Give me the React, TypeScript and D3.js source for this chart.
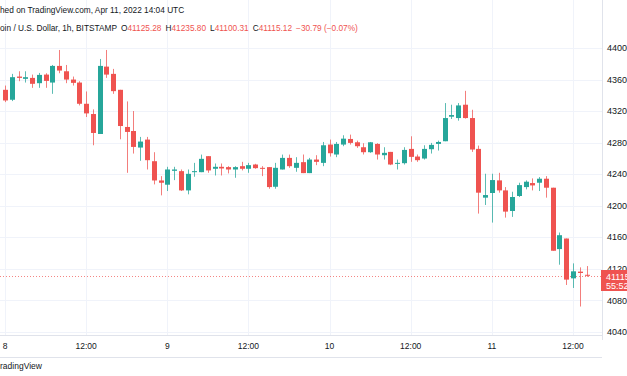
import React from "react";
import * as d3 from "d3";

const W = 627;
const H = 376;

// OHLC, hourly candles starting Apr 8 2022 00:00 UTC
const opens = [
  43470, 43344, 43638, 43609, 43621, 43554, 43663, 43562, 43773, 43705, 43600, 43562, 43293, 43163, 42910, 43764,
  43672, 43470, 42999, 42948, 42738, 42839, 42565, 42321, 42267, 42443, 42439, 42195, 42426, 42426, 42629, 42469,
  42494, 42490, 42460, 42502, 42469, 42523, 42481, 42490, 42241, 42460, 42607, 42481, 42553, 42414, 42586, 42544,
  42776, 42650, 42776, 42847, 42805, 42742, 42679, 42784, 42641, 42683, 42536, 42540, 42721, 42624, 42599, 42717,
  42784, 42818, 43129, 43112, 43281, 43112, 42721, 42103, 42162, 42322, 42195, 41934, 42124, 42237, 42288, 42292,
  42343, 42229, 41451, 41585, 41080, 41165, 41125.28,
];
const highs = [
  43524, 43672, 43705, 43705, 43663, 43684, 43680, 43785, 43975, 43785, 43638, 43579, 43449, 43222, 43861, 43975,
  43735, 43470, 43323, 43201, 42873, 42873, 42679, 42376, 42494, 42494, 42460, 42460, 42544, 42649, 42629, 42536,
  42536, 42502, 42502, 42557, 42544, 42532, 42502, 42490, 42544, 42649, 42649, 42616, 42650, 42607, 42641, 42809,
  42839, 42809, 42894, 42902, 42826, 42793, 42809, 42793, 42742, 42683, 42586, 42742, 42881, 42650, 42767, 42797,
  42826, 43302, 43281, 43302, 43457, 43217, 42763, 42406, 42406, 42418, 42237, 42178, 42292, 42322, 42347, 42364,
  42376, 42229, 41661, 41585, 41270, 41219, 41235.8,
];
const lows = [
  43314, 43327, 43579, 43562, 43495, 43495, 43495, 43419, 43680, 43554, 43524, 43272, 43125, 42767, 42910, 43621,
  43419, 42843, 42418, 42662, 42570, 42460, 42271, 42132, 42187, 42325, 42187, 42145, 42368, 42426, 42418, 42384,
  42384, 42410, 42355, 42448, 42418, 42469, 42376, 42216, 42216, 42460, 42481, 42431, 42414, 42414, 42515, 42502,
  42624, 42616, 42755, 42776, 42734, 42650, 42671, 42586, 42586, 42515, 42460, 42523, 42557, 42557, 42586, 42662,
  42700, 42818, 43100, 43079, 43105, 42683, 41901, 42010, 41787, 42166, 41850, 41859, 42111, 42208, 42195, 42187,
  42103, 41430, 41253, 40996, 40958, 40723, 41100.31,
];
const closes = [
  43335, 43630, 43621, 43630, 43546, 43659, 43583, 43773, 43714, 43600, 43558, 43293, 43171, 42923, 43773, 43663,
  43453, 43011, 42936, 42746, 42814, 42578, 42321, 42292, 42460, 42460, 42195, 42405, 42439, 42595, 42448, 42494,
  42473, 42460, 42490, 42469, 42515, 42477, 42473, 42237, 42481, 42607, 42502, 42544, 42414, 42586, 42557, 42767,
  42666, 42784, 42851, 42797, 42755, 42679, 42805, 42650, 42671, 42523, 42544, 42708, 42620, 42578, 42721, 42772,
  42809, 43112, 43150, 43272, 43112, 42713, 42166, 42136, 42326, 42195, 41926, 42111, 42262, 42305, 42258, 42343,
  42229, 41430, 41627, 41064, 41169, 41148, 41115.12,
];

const priceTicks = [44000, 43600, 43200, 42800, 42400, 42000, 41600, 41200, 40800, 40400];
const startTime = Date.UTC(2022, 3, 8, 0);
const headerLine1 = "hed on TradingView.com, Apr 11, 2022 14:04 UTC";
const symbolText = "oin / U.S. Dollar, 1h, BITSTAMP";
const ohlcLabels = ["O", "H", "L", "C"];
const ohlcValues = ["41125.28", "41235.80", "41100.31", "41115.12"];
const changeText = "\u221230.79 (\u22120.07%)";
const countdown = "55:52";

const GREEN = "#26a69a";
const RED = "#ef5350";
const GRID = "#f0f3fa";
const BORDER = "#e0e3eb";
const TEXT = "#131722";
const FONT = "'Liberation Sans', Arial, sans-serif";

export default function App() {
  const axisX = 602;
  const axisY = 335;
  const x = d3
    .scaleUtc()
    .domain([new Date(startTime), new Date(Date.UTC(2022, 3, 11, 12))])
    .range([5, 573]);
  const y = d3.scaleLinear().domain([40400, 44000]).range([332, 48]);
  const timeTicks = d3.utcHour.every(12)!.range(new Date(startTime), new Date(Date.UTC(2022, 3, 11, 13)));
  const bodyW = 5;
  const lastClose = closes[closes.length - 1];
  const lastY = y(lastClose);

  return (
    <svg
      width={W}
      height={H}
      style={{ position: "absolute", left: 0, top: 0, background: "#fff", fontFamily: FONT }}
    >
      <rect x={0} y={0} width={W} height={H} fill="#fff" />
      {/* grid */}
      {timeTicks.map((t, i) => (
        <line key={"vg" + i} x1={Math.round(x(t)) + 0.5} x2={Math.round(x(t)) + 0.5} y1={0} y2={axisY} stroke={GRID} />
      ))}
      {priceTicks.map((p) => (
        <line key={"hg" + p} x1={0} x2={axisX} y1={Math.round(y(p)) + 0.5} y2={Math.round(y(p)) + 0.5} stroke={GRID} />
      ))}
      {/* last price line */}
      <line
        x1={0}
        x2={axisX}
        y1={Math.round(lastY) + 0.5}
        y2={Math.round(lastY) + 0.5}
        stroke={RED}
        strokeOpacity={0.7}
        strokeDasharray="1,2"
      />
      {/* candles */}
      {opens.map((o, i) => {
        const c = closes[i];
        const cx = Math.round(x(new Date(startTime + i * 3600000)));
        const up = c >= o;
        const col = up ? GREEN : RED;
        const top = y(Math.max(o, c));
        const bot = y(Math.min(o, c));
        return (
          <g key={"c" + i}>
            <line
              x1={cx + 0.5}
              x2={cx + 0.5}
              y1={y(highs[i])}
              y2={y(lows[i])}
              stroke={col}
              strokeOpacity={0.75}
            />
            <rect x={cx - 2} y={top} width={bodyW} height={Math.max(1, bot - top)} fill={col} />
          </g>
        );
      })}
      {/* axes borders */}
      <line x1={axisX + 0.5} x2={axisX + 0.5} y1={0} y2={357} stroke={BORDER} />
      <line x1={0} x2={axisX} y1={axisY + 0.5} y2={axisY + 0.5} stroke={BORDER} />
      <line x1={0} x2={axisX} y1={357.5} y2={357.5} stroke={BORDER} />
      {/* price labels */}
      <g>
        {priceTicks.map((p) => (
          <text key={"pl" + p} x={607} y={y(p)} dy="0.35em" fontSize={9} fill={TEXT}>
            {p}
          </text>
        ))}
      </g>
      <rect x={axisX} y={340} width={W - axisX} height={20} fill="#fff" />
      <rect x={axisX - 1} y={270} width={W - axisX + 1} height={21} fill={RED} />
      <text x={606} y={276.5} dy="0.35em" fontSize={9} fill="#fff">
        {Math.floor(lastClose)}
      </text>
      <text x={606} y={285.5} dy="0.35em" fontSize={9} fill="#fff">
        {countdown}
      </text>
      {/* time labels */}
      {timeTicks.map((t, i) => (
        <text
          key={"tl" + i}
          x={x(t)}
          y={346}
          dy="0.35em"
          fontSize={8.5}
          fill={TEXT}
          textAnchor="middle"
        >
          {t.getUTCHours() === 0 ? String(t.getUTCDate()) : "12:00"}
        </text>
      ))}
      <text x={0} y={366} dy="0.35em" fontSize={8.5} fill={TEXT}>
        radingView
      </text>
      {/* header */}
      <text x={0} y={10} dy="0.35em" fontSize={8.3} fill={TEXT}>
        {headerLine1}
      </text>
      <text x={0} y={28} dy="0.35em" fontSize={8.3} fill={TEXT}>
        <tspan>{symbolText}</tspan>
        {ohlcLabels.map((l, i) => (
          <React.Fragment key={l}>
            <tspan dx={i === 0 ? 4 : 4}>{l}</tspan>
            <tspan fill={RED}>{ohlcValues[i]}</tspan>
          </React.Fragment>
        ))}
        <tspan dx={4} fill={RED}>
          {changeText}
        </tspan>
      </text>
    </svg>
  );
}
